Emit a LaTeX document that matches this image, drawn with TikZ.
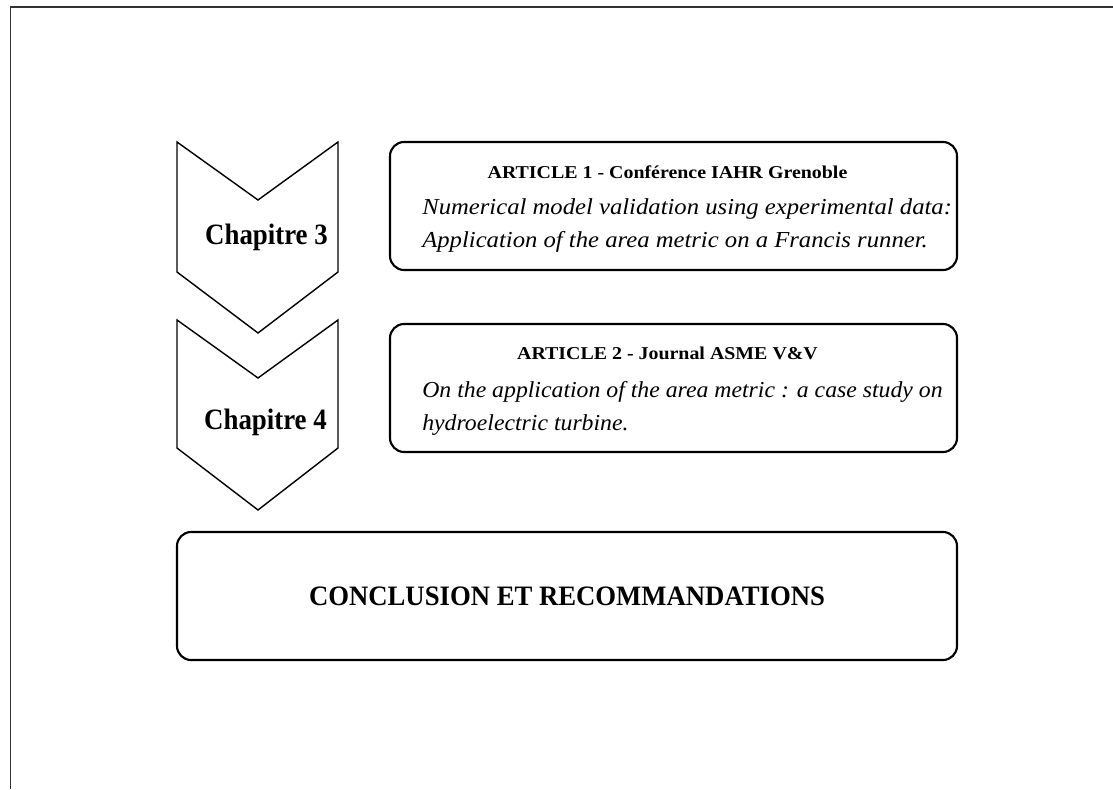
\documentclass[tikz,border=0pt]{standalone}
\usepackage{fontspec}
\setmainfont{Liberation Serif}[
    BoldFont={Liberation Serif Bold},
    ItalicFont={Liberation Serif Italic},
    BoldItalicFont={Liberation Serif Bold Italic}]
\newfontfamily\chapfont{Liberation Serif}[FakeStretch=0.91]
\newfontfamily\conclfont{Liberation Serif}[FakeStretch=0.95]
\newfontfamily\titrefont{Liberation Serif}[FakeStretch=1.1]
\newfontfamily\resumefont{Liberation Serif}[FakeStretch=1.08]
\newfontfamily\resumefontb{Liberation Serif}[FakeStretch=1.04]
\usepackage{tikz}
\usetikzlibrary{positioning, calc}
\usepackage{xcolor}
\definecolor{cadre}{HTML}{333333}

\tikzset{
    chevron/.style={draw=black, line width=0.8pt, line join=miter},
    chap/.style={font=\chapfont\fontsize{16.8}{20}\selectfont\bfseries, inner sep=0pt},
    artbox/.style={draw=black, line width=1.2pt, rounded corners=8pt,
                   minimum width=11.34cm, minimum height=2.56cm, inner sep=0pt},
    titre/.style={font=\titrefont\fontsize{10.3}{12}\selectfont\bfseries, inner sep=0pt},
    resume/.style={font=\resumefont\fontsize{13}{18.8}\selectfont\itshape, align=left, inner sep=0pt},
}

\begin{document}
\begin{tikzpicture}
    \useasboundingbox (0,0) rectangle (22.26,15.78);
    % cadre de la page
    \draw[cadre, line width=0.8pt] (0.21,0) -- (0.21,15.64) -- (22.26,15.64);

    % chevrons des chapitres
    \draw[chevron] (3.54,12.94) -- (5.16,11.78) -- (6.76,12.94) -- (6.76,10.34)
          -- (5.16,9.12) -- (3.54,10.34) -- cycle;
    \draw[chevron] (3.54,9.38) -- (5.16,8.22) -- (6.76,9.38) -- (6.76,6.82)
          -- (5.16,5.58) -- (3.54,6.82) -- cycle;
    \node[chap] (ch3) at (5.33,11.04) {Chapitre 3};
    \node[chap] (ch4) at (5.31,7.34) {Chapitre 4};

    % articles
    \node[artbox] (art1) at (13.47,11.66) {};
    \node[titre] (t1) at ([xshift=-0.12cm, yshift=-0.62cm]art1.north)
          {ARTICLE 1 - Conférence IAHR Grenoble};
    \node[resume, anchor=west] (r1) at ([xshift=0.66cm, yshift=-0.39cm]art1.west)
          {Numerical model validation using experimental data:\\
           Application of the area metric on a Francis runner.};

    \node[artbox] (art2) at (13.47,8.02) {};
    \node[titre] (t2) at ([xshift=-0.12cm, yshift=-0.60cm]art2.north)
          {ARTICLE 2 - Journal ASME V\&V};
    \node[resume, font=\resumefontb\fontsize{13}{18.8}\selectfont\itshape, anchor=west]
          (r2) at ([xshift=0.66cm, yshift=-0.41cm]art2.west)
          {On the application of the area metric : a case study on\\
           hydroelectric turbine.};

    % conclusion
    \node[artbox, minimum width=15.6cm, font=\conclfont\fontsize{16}{19}\selectfont\bfseries]
          (concl) at (11.34,3.86) {CONCLUSION ET RECOMMANDATIONS};
\end{tikzpicture}
\end{document}
